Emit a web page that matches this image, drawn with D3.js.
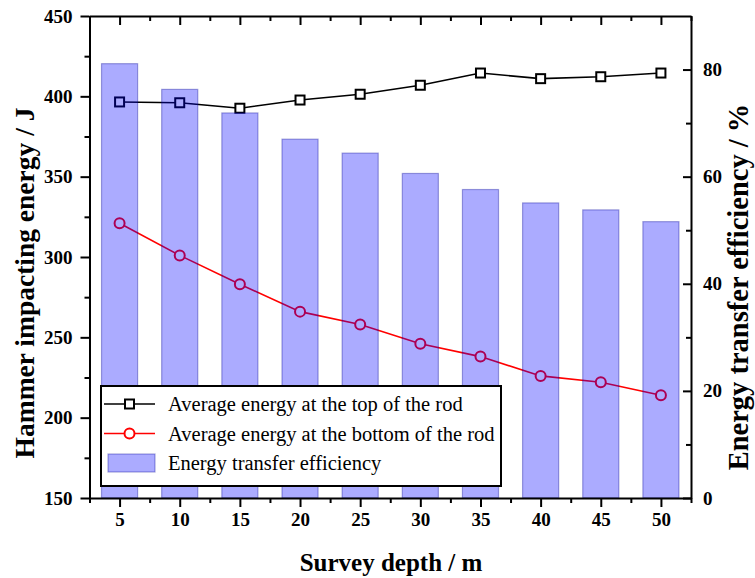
<!DOCTYPE html>
<html>
<head>
<meta charset="utf-8">
<script src="https://cdn.jsdelivr.net/npm/d3@7"></script>
<style>
  html, body { margin: 0; padding: 0; background: #fff; }
  svg { display: block; }
  text { font-family: "Liberation Serif", "Times New Roman", serif; fill: #000; }
</style>
</head>
<body>
<svg id="chart" width="755" height="578"></svg>
<script>
// Survey depth (m)
const depths = [5, 10, 15, 20, 25, 30, 35, 40, 45, 50];
// Average hammer energy at the top of the rod (J)
const topEnergy = [396.5, 396.0, 392.6, 397.7, 401.3, 406.9, 414.5, 411.0, 412.2, 414.5];
// Average hammer energy at the bottom of the rod (J)
const bottomEnergy = [321, 301, 283, 266, 258, 246, 238, 226, 222, 214];
// Energy transfer efficiency (%)
const efficiency = [81.1, 76.3, 71.9, 67.0, 64.4, 60.6, 57.6, 55.1, 53.8, 51.6];

const leftTicks = [150, 200, 250, 300, 350, 400, 450];
const rightTicks = [0, 20, 40, 60, 80];

const seriesNames = [
  "Average energy at the top of the rod",
  "Average energy at the bottom of the rod",
  "Energy transfer efficiency"
];

const svg = d3.select("#chart");
const plot = { left: 89.5, right: 691, top: 16, bottom: 498 };

const x = d3.scaleLinear().domain([2.5, 52.5]).range([plot.left, plot.right]);
const yL = d3.scaleLinear().domain([150, 450]).range([plot.bottom, plot.top]);
const yR = d3.scaleLinear().domain([0, 90]).range([plot.bottom, plot.top]);

const barFill = "rgb(0,0,255)";
const barOpacity = 0.33;
const barStroke = "rgb(0,0,150)";

// --- line series (drawn first, the translucent bars sit over them) ---
const lineTop = d3.line().x((d, i) => x(depths[i])).y(d => yL(d));
svg.append("path").datum(topEnergy)
  .attr("d", lineTop).attr("fill", "none").attr("stroke", "#000").attr("stroke-width", 1.6);
svg.append("path").datum(bottomEnergy)
  .attr("d", lineTop).attr("fill", "none").attr("stroke", "#ff0000").attr("stroke-width", 1.6);

svg.selectAll("rect.mk").data(topEnergy).enter().append("rect")
  .attr("class", "mk")
  .attr("x", (d, i) => x(depths[i]) - 4.5).attr("y", d => yL(d) - 4.5)
  .attr("width", 9).attr("height", 9)
  .attr("fill", "#fff").attr("stroke", "#000").attr("stroke-width", 2);

svg.selectAll("circle.mk").data(bottomEnergy).enter().append("circle")
  .attr("class", "mk")
  .attr("cx", (d, i) => x(depths[i])).attr("cy", d => yL(d)).attr("r", 5)
  .attr("fill", "#fff").attr("stroke", "#ff0000").attr("stroke-width", 2);

// --- efficiency bars on the right axis ---
const bw = x(6.5) - x(3.5);
svg.selectAll("rect.bar").data(efficiency).enter().append("rect")
  .attr("class", "bar")
  .attr("x", (d, i) => x(depths[i]) - bw / 2)
  .attr("y", d => yR(d))
  .attr("width", bw)
  .attr("height", d => yR(0) - yR(d))
  .attr("fill", barFill).attr("fill-opacity", barOpacity)
  .attr("stroke", barStroke).attr("stroke-opacity", 0.35).attr("stroke-width", 1.2);

// --- axes ---
const tickFont = g => g.selectAll("text")
  .style("font-size", "19px").style("font-weight", "bold")
  .style("font-family", "'Liberation Serif', 'Times New Roman', serif");
const axisStyle = g => {
  g.select(".domain").attr("stroke-width", 2);
  g.selectAll(".tick line").attr("stroke-width", 2);
};

const minorX = d3.range(2.5, 52.6, 5);
const minorL = d3.range(175, 450, 50);
const minorR = d3.range(10, 90, 20);

// bottom
svg.append("g").attr("transform", `translate(0,${plot.bottom})`)
  .call(d3.axisBottom(x).tickValues(depths).tickSize(9).tickSizeOuter(0).tickPadding(6))
  .call(tickFont).call(axisStyle);
svg.append("g").attr("transform", `translate(0,${plot.bottom})`)
  .call(d3.axisBottom(x).tickValues(minorX).tickSize(5).tickFormat(""))
  .call(g => g.select(".domain").remove()).call(axisStyle);

// top (ticks point inward)
svg.append("g").attr("transform", `translate(0,${plot.top})`)
  .call(d3.axisTop(x).tickValues(depths).tickSize(-9).tickSizeOuter(0).tickFormat(""))
  .call(axisStyle);
svg.append("g").attr("transform", `translate(0,${plot.top})`)
  .call(d3.axisTop(x).tickValues(minorX).tickSize(-5).tickFormat(""))
  .call(g => g.select(".domain").remove()).call(axisStyle);

// left
svg.append("g").attr("transform", `translate(${plot.left},0)`)
  .call(d3.axisLeft(yL).tickValues(leftTicks).tickSize(9).tickSizeOuter(0).tickPadding(8))
  .call(tickFont).call(axisStyle);
svg.append("g").attr("transform", `translate(${plot.left},0)`)
  .call(d3.axisLeft(yL).tickValues(minorL).tickSize(5).tickFormat(""))
  .call(g => g.select(".domain").remove()).call(axisStyle);

// right (ticks point inward)
svg.append("g").attr("transform", `translate(${plot.right},0)`)
  .call(d3.axisRight(yR).tickValues(rightTicks).tickSize(-8).tickSizeOuter(0).tickPadding(12))
  .call(tickFont).call(axisStyle);
svg.append("g").attr("transform", `translate(${plot.right},0)`)
  .call(d3.axisRight(yR).tickValues(minorR).tickSize(-5).tickFormat(""))
  .call(g => g.select(".domain").remove()).call(axisStyle);

// --- axis titles ---
svg.append("text")
  .attr("x", 391).attr("y", 571)
  .attr("text-anchor", "middle")
  .style("font-size", "25px").style("font-weight", "bold")
  .text("Survey depth / m");

svg.append("text")
  .attr("transform", "translate(34,283) rotate(-90)")
  .attr("text-anchor", "middle")
  .style("font-size", "27.5px").style("font-weight", "bold")
  .text("Hammer impacting energy / J");

svg.append("text")
  .attr("transform", "translate(748,287) rotate(-90)")
  .attr("text-anchor", "middle")
  .style("font-size", "28.5px").style("font-weight", "bold")
  .text("Energy transfer efficiency / %");

// --- legend ---
const lg = svg.append("g");
lg.append("rect")
  .attr("x", 101).attr("y", 386).attr("width", 400).attr("height", 100)
  .attr("fill", "#fff").attr("stroke", "#000").attr("stroke-width", 2);

const rows = [404, 433.5, 463];
// top-of-rod entry
lg.append("line").attr("x1", 104).attr("x2", 155).attr("y1", rows[0]).attr("y2", rows[0])
  .attr("stroke", "#000").attr("stroke-width", 1.6);
lg.append("rect").attr("x", 129.5 - 4.5).attr("y", rows[0] - 4.5).attr("width", 9).attr("height", 9)
  .attr("fill", "#fff").attr("stroke", "#000").attr("stroke-width", 2);
// bottom-of-rod entry
lg.append("line").attr("x1", 104).attr("x2", 155).attr("y1", rows[1]).attr("y2", rows[1])
  .attr("stroke", "#ff0000").attr("stroke-width", 1.6);
lg.append("circle").attr("cx", 129.5).attr("cy", rows[1]).attr("r", 5)
  .attr("fill", "#fff").attr("stroke", "#ff0000").attr("stroke-width", 2);
// efficiency entry
lg.append("rect").attr("x", 108).attr("y", rows[2] - 9).attr("width", 47).attr("height", 18)
  .attr("fill", barFill).attr("fill-opacity", barOpacity)
  .attr("stroke", barStroke).attr("stroke-opacity", 0.35).attr("stroke-width", 1.2);

lg.selectAll("text.lt").data(seriesNames).enter().append("text")
  .attr("class", "lt")
  .attr("x", 168).attr("y", (d, i) => rows[i]).attr("dy", "0.35em")
  .style("font-size", "20.5px")
  .text(d => d);
</script>
</body>
</html>
